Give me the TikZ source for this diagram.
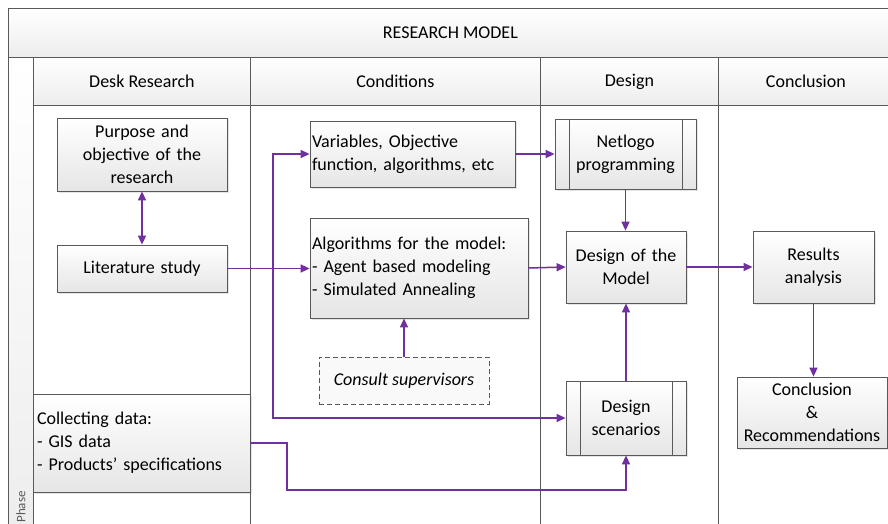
\documentclass[tikz,border=0pt]{standalone}
\usepackage{fontspec}
\setmainfont{Carlito}
\usetikzlibrary{arrows.meta,positioning,shadows,calc}
\definecolor{flowpurple}{HTML}{7030A0}
\definecolor{edgegray}{HTML}{595959}

\begin{document}
\begin{tikzpicture}[x=1pt,y=-1pt,
font=\fontsize{18}{23}\selectfont,
lanebar/.style={rectangle, draw=edgegray, line width=0.8pt, top color=white, bottom color=gray!14, inner sep=0pt, anchor=north west},
lanebody/.style={rectangle, draw=edgegray, line width=0.8pt, fill=white, inner sep=0pt, anchor=north west},
boxnode/.style={rectangle, draw=edgegray, line width=0.8pt, top color=white, bottom color=gray!20, drop shadow={opacity=0.2, shadow xshift=1.5pt, shadow yshift=-1.5pt}, align=center, inner sep=2pt},
leftbox/.style={boxnode, align=left},
procnode/.style={boxnode, path picture={
  \draw[edgegray, line width=0.8pt] ([xshift=14pt]path picture bounding box.north west) -- ([xshift=14pt]path picture bounding box.south west);
  \draw[edgegray, line width=0.8pt] ([xshift=-14pt]path picture bounding box.north east) -- ([xshift=-14pt]path picture bounding box.south east);}},
dashnode/.style={rectangle, draw=edgegray, dash pattern=on 5pt off 3pt, line width=0.9pt, fill=gray!5, font=\fontsize{18}{23}\selectfont\itshape, inner sep=3pt},
flow/.style={draw=flowpurple, line width=1.5pt, -{Triangle[length=9pt,width=8pt]}},
]
\useasboundingbox (0,0) rectangle (888,524);
\clip (0,0) rectangle (888,524);

%Lanes
\node[lanebar, minimum width=884pt, minimum height=49pt] (title) at (8,8) {RESEARCH MODEL};
\node[lanebar, minimum width=25pt, minimum height=480pt] (phasecol) at (8,57) {};
\node[rotate=90, font=\fontsize{13}{15}\selectfont, text=edgegray] (phaselbl) at (21,507) {Phase};

\node[lanebar, minimum width=217pt, minimum height=48pt] (hdesk) at (33,57) {Desk Research};
\node[lanebar, minimum width=290pt, minimum height=48pt] (hcond) at (250,57) {Conditions};
\node[lanebar, minimum width=178pt, minimum height=48pt] (hdesign) at (540,57) {Design};
\node[lanebar, minimum width=175pt, minimum height=48pt] (hconcl) at (718,57) {Conclusion};

\node[lanebody, minimum width=217pt, minimum height=440pt] (ldesk) at (33,105) {};
\node[lanebody, minimum width=290pt, minimum height=440pt] (lcond) at (250,105) {};
\node[lanebody, minimum width=178pt, minimum height=440pt] (ldesign) at (540,105) {};
\node[lanebody, minimum width=175pt, minimum height=440pt] (lconcl) at (718,105) {};

%Nodes
\node[boxnode, minimum width=170pt, minimum height=73pt, text width=166pt] (purpose) at (142,154.5) {Purpose and\\objective of the\\research};
\node[boxnode, minimum width=170pt, minimum height=47pt, text width=166pt] (lit) at (142,268.5) {Literature study};

\node[leftbox, minimum width=205pt, minimum height=66pt, text width=201pt] (vars) at (412.5,154) {Variables, Objective\\function, algorithms, etc};
\node[leftbox, minimum width=218pt, minimum height=100pt, text width=214pt] (algo) at (419,268) {Algorithms for the model:\\- Agent based modeling\\- Simulated Annealing};
\node[dashnode, minimum width=170pt, minimum height=47pt] (consult) at (404,380.5) {Consult supervisors};

\node[procnode, minimum width=141pt, minimum height=70pt, text width=112pt] (netlogo) at (625.5,154) {Netlogo\\programming};
\node[boxnode, minimum width=120pt, minimum height=72pt, text width=116pt] (dmodel) at (626,267) {Design of the\\Model};
\node[procnode, minimum width=120pt, minimum height=74pt, text width=90pt] (scen) at (626,418) {Design\\scenarios};

\node[boxnode, minimum width=121pt, minimum height=72pt, text width=117pt] (results) at (813.5,267) {Results\\analysis};
\node[boxnode, minimum width=150pt, minimum height=71pt, text width=146pt] (concl) at (812,412.5) {Conclusion\\\&\\Recommendations};

\node[leftbox, minimum width=217pt, minimum height=98pt, text width=209pt, inner sep=4pt] (collect) at (141.5,443) {Collecting data:\\- GIS data\\- Products' specifications};

\coordinate (split) at (273,267);
\coordinate (dataturn) at (287,490);

%Lines
\draw[flow, {Triangle[length=9pt,width=8pt]}-{Triangle[length=9pt,width=8pt]}] (purpose.south) -- (lit.north);
\draw[flow] (lit.east) -- (lit.east -| algo.west);
\draw[flow] (split) |- (vars.west);
\draw[flow] (split) |- (scen.west);
\draw[flow] (vars.east) -- (netlogo.west);
\draw[flow] (netlogo.south) -- (netlogo.south |- dmodel.north);
\draw[flow] (algo.east) -- (dmodel.west);
\draw[flow] (consult.north) -- (consult.north |- algo.south);
\draw[flow] (scen.north) -- (dmodel.south);
\draw[flow] (dmodel.east) -- (results.west);
\draw[flow] (results.south) -- (results.south |- concl.north);
\draw[flow] (collect.east) -| (dataturn) -| (scen.south);

\end{tikzpicture}
\end{document}
